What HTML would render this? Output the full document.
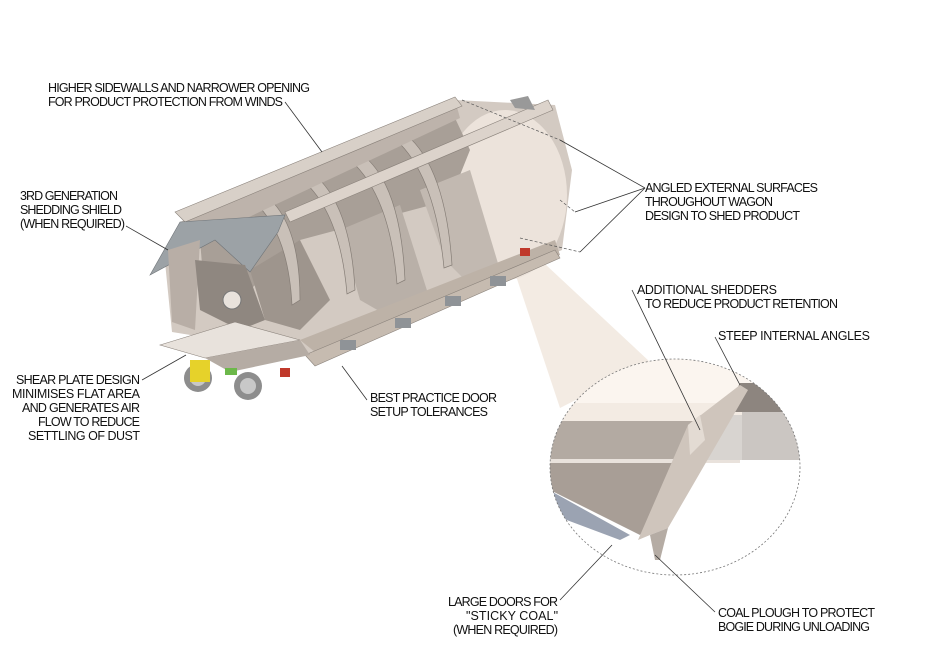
<!DOCTYPE html>
<html><head><meta charset="utf-8"><style>
html,body{margin:0;padding:0;background:#fff;width:940px;height:663px;overflow:hidden}
svg{display:block}
text{font-family:"Liberation Sans",sans-serif;font-size:12.5px;fill:#111}
</style></head><body>
<svg width="940" height="663" viewBox="0 0 940 663" xmlns="http://www.w3.org/2000/svg">
<defs>
<clipPath id="c"><ellipse cx="675" cy="467" rx="125" ry="108"/></clipPath>
</defs>
<polygon points="510,258 530,250 650,362 560,408" fill="#f3ebe3"/>
<g clip-path="url(#c)">
<rect x="540" y="350" width="270" height="240" fill="#fff"/>
<rect x="540" y="350" width="270" height="53" fill="#fbf5ef"/>
<rect x="540" y="403" width="270" height="18" fill="#f3ebe3"/>
<rect x="540" y="421" width="200" height="38" fill="#b3aaa2"/>
<rect x="540" y="459" width="200" height="4" fill="#e9e2dc"/>
<polygon points="540,463 700,463 640,535 540,485" fill="#a89e96"/>
<polygon points="540,485 630,535 620,540 540,510" fill="#9ba3b2"/>
<polygon points="740,383 810,383 810,412 725,412" fill="#8d857f"/>
<rect x="742" y="412" width="70" height="48" fill="#cbc6c2"/>
<rect x="700" y="415" width="42" height="45" fill="#d8d4d0"/>
<polygon points="688,425 740,385 748,390 668,528 650,535 638,540" fill="#cfc5bc"/>
<polygon points="688,425 700,415 705,440 690,455" fill="#e3dbd3"/>
<polygon points="650,535 668,528 660,560 655,560" fill="#b5aca4"/>
</g>
<ellipse cx="675" cy="467" rx="125" ry="108" fill="none" stroke="#777" stroke-width="0.8" stroke-dasharray="2,2"/>
<!-- wagon body -->
<polygon points="180,222 455,100 555,105 572,170 562,250 320,356 172,332 165,262" fill="#d3cac2"/>
<ellipse cx="505" cy="195" rx="62" ry="85" fill="#ece3db"/>
<!-- dark interior panels -->
<polygon points="200,240 455,118 470,150 450,200 300,240 240,300 205,300" fill="#a89f97"/>
<polygon points="250,270 300,240 330,300 300,330 265,320" fill="#9e958d"/>
<polygon points="340,230 400,205 430,300 395,320 360,300" fill="#b9b0a8"/>
<polygon points="420,190 470,170 500,270 470,285 445,260" fill="#c2b9b1"/>
<g fill="#c9c0b8" stroke="#857d76" stroke-width="0.7">
<path d="M258,190 Q300,215 300,300 L292,305 Q288,230 252,200 Z"/>
<path d="M305,168 Q350,195 355,290 L347,294 Q340,210 300,178 Z"/>
<path d="M355,150 Q400,175 405,280 L397,284 Q390,195 350,160 Z"/>
<path d="M400,130 Q445,160 452,265 L444,268 Q435,175 396,140 Z"/>
</g>
<polygon points="185,222 455,100 460,118 200,240" fill="#bdb3ab"/>
<polygon points="175,212 455,97 462,106 185,222" fill="#d8d0c8" stroke="#8a827b" stroke-width="0.6"/>
<polygon points="285,212 548,100 553,110 290,222" fill="#dcd3cb" stroke="#8a827b" stroke-width="0.6"/>
<polygon points="510,100 528,96 535,110 515,108" fill="#999"/>
<polygon points="150,275 180,222 285,215 278,232 250,272 215,240" fill="#9ca2a6" stroke="#6f7478" stroke-width="0.6"/>
<polygon points="168,250 200,240 195,330 172,322" fill="#b8aea6"/>
<polygon points="195,260 245,265 265,320 240,330 200,310" fill="#8f8780"/>
<circle cx="232" cy="300" r="9" fill="#e8e2dc" stroke="#777" stroke-width="1"/>
<polygon points="300,340 555,240 560,255 320,356" fill="#bdb2a7"/>
<polygon points="305,355 555,250 560,258 315,366" fill="#c6bbb0" stroke="#8a827b" stroke-width="0.6"/>
<polygon points="160,345 235,322 300,340 205,358" fill="#e8e2dc" stroke="#8a827b" stroke-width="0.6"/>
<polygon points="205,358 300,340 310,355 230,372" fill="#b5aca4"/>
<g fill="#8f9397">
<rect x="340" y="340" width="16" height="10"/><rect x="395" y="318" width="16" height="10"/><rect x="445" y="296" width="16" height="10"/><rect x="490" y="276" width="16" height="10"/>
</g>
<circle cx="198" cy="378" r="14" fill="#8d8d8d"/><circle cx="198" cy="378" r="8" fill="#c8c8c8"/>
<circle cx="248" cy="386" r="14" fill="#8d8d8d"/><circle cx="248" cy="386" r="8" fill="#c8c8c8"/>
<rect x="190" y="360" width="20" height="22" fill="#e6d22a"/>
<rect x="225" y="368" width="12" height="7" fill="#6cb84a"/>
<rect x="280" y="368" width="10" height="9" fill="#c0392b"/>
<rect x="520" y="248" width="10" height="8" fill="#c0392b"/>
<g stroke="#333" stroke-width="0.8" fill="none">
<path d="M285,102 L322,152"/>
<path d="M126,226 L168,250"/>
<path d="M645,188 L560,140"/><path d="M645,188 L575,212"/><path d="M645,188 L580,252"/>
<path d="M632,290 L700,430"/>
<path d="M715,337 L740,385"/>
<path d="M142,380 L186,355"/>
<path d="M367,400 L342,366"/>
<path d="M560,600 L612,545"/>
<path d="M715,612 L655,555"/>
</g>
<g stroke="#555" stroke-width="0.7" stroke-dasharray="3,2" fill="none">
<path d="M462,100 L560,140"/><path d="M520,238 L580,252"/><path d="M560,200 L575,212"/>
</g>
<text x="48" y="92" textLength="262">HIGHER SIDEWALLS AND NARROWER OPENING</text>
<text x="48" y="106" textLength="235">FOR PRODUCT PROTECTION FROM WINDS</text>
<text x="20" y="200" textLength="98">3RD GENERATION</text>
<text x="20" y="214" textLength="102">SHEDDING SHIELD</text>
<text x="20" y="228" textLength="105">(WHEN REQUIRED)</text>
<text x="645" y="192" textLength="173">ANGLED EXTERNAL SURFACES</text>
<text x="645" y="206" textLength="128">THROUGHOUT WAGON</text>
<text x="645" y="220" textLength="155">DESIGN TO SHED PRODUCT</text>
<text x="637" y="294" textLength="140">ADDITIONAL SHEDDERS</text>
<text x="645" y="308" textLength="193">TO REDUCE PRODUCT RETENTION</text>
<text x="718" y="340" textLength="152">STEEP INTERNAL ANGLES</text>
<text x="140" y="384" text-anchor="end" textLength="124">SHEAR PLATE DESIGN</text>
<text x="140" y="398" text-anchor="end" textLength="128">MINIMISES FLAT AREA</text>
<text x="140" y="412" text-anchor="end" textLength="118">AND GENERATES AIR</text>
<text x="140" y="426" text-anchor="end" textLength="102">FLOW TO REDUCE</text>
<text x="140" y="440" text-anchor="end" textLength="112">SETTLING OF DUST</text>
<text x="370" y="402" textLength="127">BEST PRACTICE DOOR</text>
<text x="370" y="416" textLength="118">SETUP TOLERANCES</text>
<text x="558" y="606" text-anchor="end" textLength="110">LARGE DOORS FOR</text>
<text x="558" y="620" text-anchor="end" textLength="92">"STICKY  COAL"</text>
<text x="558" y="634" text-anchor="end" textLength="105">(WHEN REQUIRED)</text>
<text x="718" y="617" textLength="157">COAL PLOUGH TO PROTECT</text>
<text x="718" y="631" textLength="152">BOGIE DURING UNLOADING</text>
</svg>
</body></html>
